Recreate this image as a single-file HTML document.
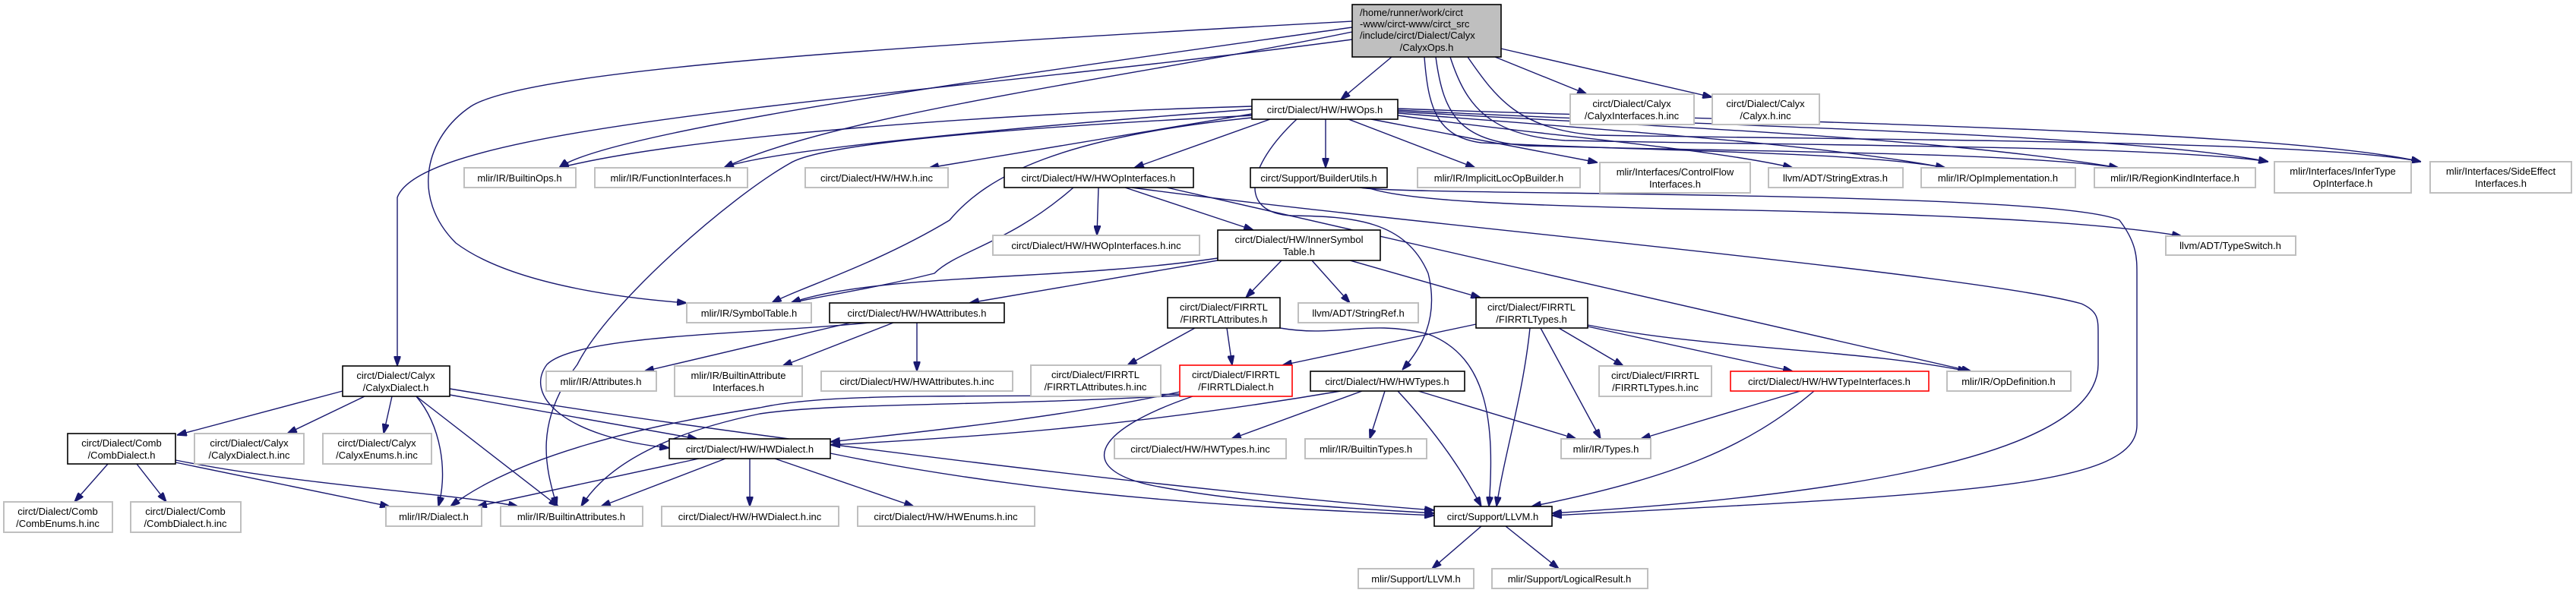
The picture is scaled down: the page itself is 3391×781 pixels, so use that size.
<!DOCTYPE html>
<html><head><meta charset="utf-8"><style>
html,body{margin:0;padding:0;background:#fff;}
svg{display:block;}
text{font-family:"Liberation Sans",sans-serif;font-size:13px;fill:#000;}
.e{fill:none;stroke:#191970;stroke-width:1.4;marker-end:url(#a);}
.n{fill:#fff;stroke:#000;stroke-width:1.6;}
.l{fill:#fff;stroke:#bfbfbf;stroke-width:2;}
.r{fill:#fff;stroke:#ff0000;stroke-width:1.6;}
</style></head><body>
<svg width="3391" height="781" viewBox="0 0 3391 781" xmlns="http://www.w3.org/2000/svg">
<defs><marker id="a" viewBox="0 0 10 7" refX="10" refY="3.5" markerUnits="userSpaceOnUse" markerWidth="13" markerHeight="9" orient="auto"><path d="M0,0 L10,3.5 L0,7 z" fill="#191970" stroke="#191970"/></marker></defs>

<g>
<path class="e" d="M1832,75 L1765,131"/>
<path class="e" d="M1968,75 L2089,124"/>
<path class="e" d="M1976,64 L2254,128"/>
<path class="e" d="M1780,52 C1200,130 560,160 523,260 L523,482"/>
<path class="e" d="M1780,36 C1400,90 800,170 736,221"/>
<path class="e" d="M1648,140 C1300,150 900,180 736,221"/>
<path class="e" d="M1780,42 C1500,100 1100,150 953,221"/>
<path class="e" d="M1648,144 C1300,170 1000,200 953,221"/>
<path class="e" d="M1648,150 L1223,221"/>
<path class="e" d="M1672,157 L1493,221"/>
<path class="e" d="M1780,28 C1200,60 700,90 620,140 C560,180 540,260 600,320 C680,380 850,395 904,399"/>
<path class="e" d="M1648,155 C1400,180 1300,230 1250,290 C1150,350 1050,380 1016,399"/>
<path class="e" d="M1413,247 C1330,320 1260,330 1230,360 C1150,380 1080,390 1041,399"/>
<path class="e" d="M1603,340 C1400,370 1150,360 1041,399"/>
<path class="e" d="M1650,152 C1300,170 1080,190 1040,215 C960,260 800,400 760,480 C700,560 720,620 733,667"/>
<path class="e" d="M1745,157 L1745,221"/>
<path class="e" d="M1775,157 L1942,221"/>
<path class="e" d="M1805,157 L2103,214"/>
<path class="e" d="M1840,152 C2000,175 2250,195 2360,221"/>
<path class="e" d="M1840,149 C2100,170 2400,190 2561,221"/>
<path class="e" d="M1840,147 C2150,165 2550,180 2789,221"/>
<path class="e" d="M1840,145 C2200,165 2800,175 2986,213"/>
<path class="e" d="M1840,143 C2300,160 3000,170 3187,213"/>
<path class="e" d="M1875,75 C1880,140 1890,180 1950,188 C2200,200 2450,200 2561,221"/>
<path class="e" d="M1890,75 C1900,150 1920,185 2010,192 C2300,200 2650,200 2789,221"/>
<path class="e" d="M1909,75 C1930,140 1960,178 2060,185 C2400,192 2850,192 2986,213"/>
<path class="e" d="M1932,75 C1970,130 2000,170 2100,178 C2500,185 3050,185 3187,213"/>
<path class="e" d="M1707,157 C1640,220 1630,280 1700,284 C1780,285 1850,290 1880,360 C1895,420 1870,460 1846,487"/>
<path class="e" d="M1800,247 C1850,265 2000,270 2200,275 C2500,280 2750,290 2872,311"/>
<path class="e" d="M1790,247 C1850,258 2700,250 2790,290 C2813,320 2813,340 2813,360 L2813,560 C2813,640 2600,650 2043,679"/>
<path class="e" d="M1490,247 C1800,290 2600,360 2740,400 C2762,410 2762,420 2762,440 L2762,480 C2762,620 2300,660 2043,676"/>
<path class="e" d="M1536,247 L2595,489"/>
<path class="e" d="M1446,247 L1444,310"/>
<path class="e" d="M1481,247 L1650,303"/>
<path class="e" d="M1603,343 L1276,399"/>
<path class="e" d="M1687,343 L1640,392"/>
<path class="e" d="M1727,343 L1777,399"/>
<path class="e" d="M1777,343 L1949,392"/>
<path class="e" d="M1120,425 L848,489"/>
<path class="e" d="M1176,425 L1030,482"/>
<path class="e" d="M1207,425 L1207,489"/>
<path class="e" d="M1145,425 C1000,440 760,440 720,480 C690,520 740,575 881,590"/>
<path class="e" d="M1573,432 L1484,481"/>
<path class="e" d="M1615,432 L1622,481"/>
<path class="e" d="M1685,432 C1760,445 1800,420 1880,440 C1960,470 1968,560 1960,667"/>
<path class="e" d="M1943,427 L1688,481"/>
<path class="e" d="M2052,432 L2137,482"/>
<path class="e" d="M2090,430 L2360,489"/>
<path class="e" d="M2090,428 C2250,460 2450,460 2590,489"/>
<path class="e" d="M2028,432 L2107,578"/>
<path class="e" d="M2014,432 C2005,520 1980,600 1970,667"/>
<path class="e" d="M1553,516 C1400,550 1200,570 1093,582"/>
<path class="e" d="M1553,519 C1300,525 1100,515 1000,537 C850,560 680,600 593,667"/>
<path class="e" d="M1553,521 C1300,535 1100,530 1000,545 C880,570 800,610 765,667"/>
<path class="e" d="M1570,522 C1430,570 1420,620 1520,640 C1650,665 1800,670 1888,676"/>
<path class="e" d="M1765,515 C1500,560 1300,575 1093,586"/>
<path class="e" d="M1793,515 L1621,578"/>
<path class="e" d="M1823,515 L1803,578"/>
<path class="e" d="M1867,515 L2075,578"/>
<path class="e" d="M1840,515 C1900,580 1930,630 1950,667"/>
<path class="e" d="M2370,515 L2160,578"/>
<path class="e" d="M2388,515 C2300,590 2200,630 2016,667"/>
<path class="e" d="M451,515 L233,573"/>
<path class="e" d="M480,522 L378,571"/>
<path class="e" d="M516,522 L505,571"/>
<path class="e" d="M548,522 C580,560 590,620 577,667"/>
<path class="e" d="M548,522 L735,667"/>
<path class="e" d="M592,520 L918,578"/>
<path class="e" d="M592,512 C1000,580 1600,650 1888,672"/>
<path class="e" d="M142,611 L98,661"/>
<path class="e" d="M180,611 L219,661"/>
<path class="e" d="M231,609 L513,667"/>
<path class="e" d="M231,606 C400,640 600,650 682,667"/>
<path class="e" d="M920,604 L628,667"/>
<path class="e" d="M955,604 L791,667"/>
<path class="e" d="M987,604 L987,667"/>
<path class="e" d="M1020,604 L1203,667"/>
<path class="e" d="M1093,597 C1400,660 1700,670 1888,679"/>
<path class="e" d="M1950,693 L1885,749"/>
<path class="e" d="M1982,693 L2052,749"/>
</g>

<rect x="1780" y="6" width="196" height="69" fill="#bfbfbf" stroke="#000" stroke-width="1.6"/>
<text x="1790" y="21">/home/runner/work/circt</text>
<text x="1790" y="36">-www/circt-www/circt_src</text>
<text x="1790" y="51">/include/circt/Dialect/Calyx</text>
<text x="1878" y="67" text-anchor="middle">/CalyxOps.h</text>

<g text-anchor="middle">
<rect class="n" x="1648" y="131" width="192" height="26"/><text x="1744" y="149">circt/Dialect/HW/HWOps.h</text>
<rect class="l" x="2067" y="124" width="163" height="40"/><text x="2148" y="141">circt/Dialect/Calyx</text><text x="2148" y="157">/CalyxInterfaces.h.inc</text>
<rect class="l" x="2254" y="124" width="141" height="40"/><text x="2324" y="141">circt/Dialect/Calyx</text><text x="2324" y="157">/Calyx.h.inc</text>
<rect class="n" x="451" y="482" width="141" height="40"/><text x="521" y="499">circt/Dialect/Calyx</text><text x="521" y="515">/CalyxDialect.h</text>
<rect class="l" x="611" y="221" width="147" height="26"/><text x="684" y="239">mlir/IR/BuiltinOps.h</text>
<rect class="l" x="783" y="221" width="201" height="26"/><text x="883" y="239">mlir/IR/FunctionInterfaces.h</text>
<rect class="l" x="1060" y="221" width="188" height="26"/><text x="1154" y="239">circt/Dialect/HW/HW.h.inc</text>
<rect class="n" x="1322" y="221" width="249" height="26"/><text x="1446" y="239">circt/Dialect/HW/HWOpInterfaces.h</text>
<rect class="n" x="1646" y="221" width="180" height="26"/><text x="1736" y="239">circt/Support/BuilderUtils.h</text>
<rect class="l" x="1866" y="221" width="214" height="26"/><text x="1973" y="239">mlir/IR/ImplicitLocOpBuilder.h</text>
<rect class="l" x="2106" y="214" width="198" height="40"/><text x="2205" y="231">mlir/Interfaces/ControlFlow</text><text x="2205" y="247">Interfaces.h</text>
<rect class="l" x="2328" y="221" width="177" height="26"/><text x="2416" y="239">llvm/ADT/StringExtras.h</text>
<rect class="l" x="2529" y="221" width="203" height="26"/><text x="2630" y="239">mlir/IR/OpImplementation.h</text>
<rect class="l" x="2757" y="221" width="212" height="26"/><text x="2863" y="239">mlir/IR/RegionKindInterface.h</text>
<rect class="l" x="2994" y="213" width="180" height="41"/><text x="3084" y="230">mlir/Interfaces/InferType</text><text x="3084" y="246">OpInterface.h</text>
<rect class="l" x="3199" y="213" width="186" height="41"/><text x="3292" y="230">mlir/Interfaces/SideEffect</text><text x="3292" y="246">Interfaces.h</text>
<rect class="l" x="2851" y="311" width="171" height="25"/><text x="2936" y="328">llvm/ADT/TypeSwitch.h</text>
<rect class="l" x="1307" y="310" width="272" height="26"/><text x="1443" y="328">circt/Dialect/HW/HWOpInterfaces.h.inc</text>
<rect class="n" x="1603" y="303" width="214" height="40"/><text x="1710" y="320">circt/Dialect/HW/InnerSymbol</text><text x="1710" y="336">Table.h</text>
<rect class="l" x="904" y="399" width="164" height="26"/><text x="986" y="417">mlir/IR/SymbolTable.h</text>
<rect class="n" x="1092" y="399" width="230" height="26"/><text x="1207" y="417">circt/Dialect/HW/HWAttributes.h</text>
<rect class="n" x="1537" y="392" width="148" height="40"/><text x="1611" y="409">circt/Dialect/FIRRTL</text><text x="1611" y="425">/FIRRTLAttributes.h</text>
<rect class="l" x="1709" y="399" width="158" height="26"/><text x="1788" y="417">llvm/ADT/StringRef.h</text>
<rect class="n" x="1943" y="392" width="147" height="40"/><text x="2016" y="409">circt/Dialect/FIRRTL</text><text x="2016" y="425">/FIRRTLTypes.h</text>
<rect class="l" x="719" y="489" width="145" height="26"/><text x="791" y="507">mlir/IR/Attributes.h</text>
<rect class="l" x="888" y="482" width="168" height="40"/><text x="972" y="499">mlir/IR/BuiltinAttribute</text><text x="972" y="515">Interfaces.h</text>
<rect class="l" x="1081" y="489" width="252" height="26"/><text x="1207" y="507">circt/Dialect/HW/HWAttributes.h.inc</text>
<rect class="l" x="1357" y="481" width="171" height="41"/><text x="1442" y="498">circt/Dialect/FIRRTL</text><text x="1442" y="514">/FIRRTLAttributes.h.inc</text>
<rect class="r" x="1553" y="481" width="148" height="41"/><text x="1627" y="498">circt/Dialect/FIRRTL</text><text x="1627" y="514">/FIRRTLDialect.h</text>
<rect class="n" x="1725" y="489" width="203" height="26"/><text x="1826" y="507">circt/Dialect/HW/HWTypes.h</text>
<rect class="l" x="2105" y="482" width="148" height="40"/><text x="2179" y="499">circt/Dialect/FIRRTL</text><text x="2179" y="515">/FIRRTLTypes.h.inc</text>
<rect class="r" x="2278" y="489" width="261" height="26"/><text x="2408" y="507">circt/Dialect/HW/HWTypeInterfaces.h</text>
<rect class="l" x="2563" y="489" width="163" height="26"/><text x="2644" y="507">mlir/IR/OpDefinition.h</text>
<rect class="n" x="89" y="571" width="142" height="40"/><text x="160" y="588">circt/Dialect/Comb</text><text x="160" y="604">/CombDialect.h</text>
<rect class="l" x="256" y="571" width="144" height="40"/><text x="328" y="588">circt/Dialect/Calyx</text><text x="328" y="604">/CalyxDialect.h.inc</text>
<rect class="l" x="425" y="571" width="143" height="40"/><text x="496" y="588">circt/Dialect/Calyx</text><text x="496" y="604">/CalyxEnums.h.inc</text>
<rect class="n" x="881" y="578" width="212" height="26"/><text x="987" y="596">circt/Dialect/HW/HWDialect.h</text>
<rect class="l" x="1467" y="578" width="226" height="26"/><text x="1580" y="596">circt/Dialect/HW/HWTypes.h.inc</text>
<rect class="l" x="1718" y="578" width="160" height="26"/><text x="1798" y="596">mlir/IR/BuiltinTypes.h</text>
<rect class="l" x="2055" y="578" width="118" height="26"/><text x="2114" y="596">mlir/IR/Types.h</text>
<rect class="l" x="5" y="661" width="143" height="40"/><text x="76" y="678">circt/Dialect/Comb</text><text x="76" y="694">/CombEnums.h.inc</text>
<rect class="l" x="172" y="661" width="145" height="40"/><text x="244" y="678">circt/Dialect/Comb</text><text x="244" y="694">/CombDialect.h.inc</text>
<rect class="l" x="508" y="667" width="126" height="26"/><text x="571" y="685">mlir/IR/Dialect.h</text>
<rect class="l" x="659" y="667" width="187" height="26"/><text x="752" y="685">mlir/IR/BuiltinAttributes.h</text>
<rect class="l" x="871" y="667" width="233" height="26"/><text x="987" y="685">circt/Dialect/HW/HWDialect.h.inc</text>
<rect class="l" x="1129" y="667" width="233" height="26"/><text x="1245" y="685">circt/Dialect/HW/HWEnums.h.inc</text>
<rect class="n" x="1888" y="667" width="155" height="26"/><text x="1965" y="685">circt/Support/LLVM.h</text>
<rect class="l" x="1788" y="749" width="152" height="26"/><text x="1864" y="767">mlir/Support/LLVM.h</text>
<rect class="l" x="1964" y="749" width="205" height="26"/><text x="2066" y="767">mlir/Support/LogicalResult.h</text>
</g>
</svg>
</body></html>
